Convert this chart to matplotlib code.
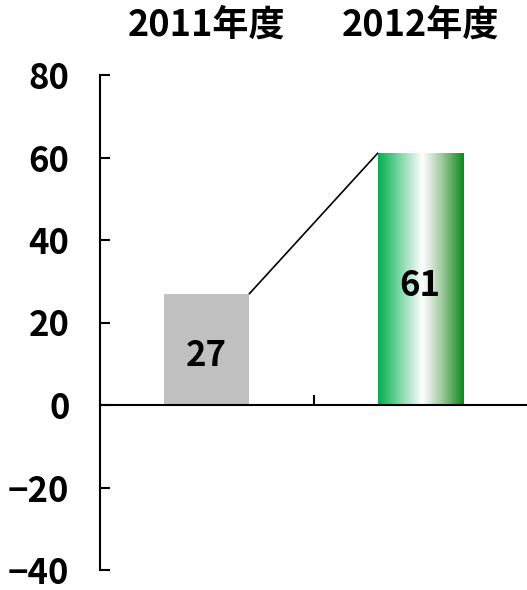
import numpy as np
import matplotlib
matplotlib.use('Agg')
import matplotlib.pyplot as plt
from matplotlib.colors import LinearSegmentedColormap

plt.rcParams['font.family'] = ['Noto Sans CJK JP', 'DejaVu Sans']

# data
categories = ['2011年度', '2012年度']
values = [27, 61]
yticks = [-40, -20, 0, 20, 40, 60, 80]

fig = plt.figure(figsize=(5.27, 5.90), dpi=100)
ax = fig.add_axes([100/527, 20/590, 427/527, 495/590])

x = np.arange(len(categories))
w = 0.4
bars = ax.bar(x, values, width=w, color=['#c0c0c0', 'none'], zorder=2)

# gradient fill for the second bar
cmap = LinearSegmentedColormap.from_list(
    'grn', [(0, '#00b050'), (0.25, '#7fd6a6'), (0.52, '#ffffff'),
            (0.75, '#9cc89c'), (1, '#0b8a18')])
b = bars[1]
grad = np.linspace(0, 1, 256).reshape(1, -1)
im = ax.imshow(grad, cmap=cmap, aspect='auto', zorder=2,
               extent=(b.get_x(), b.get_x() + b.get_width(), 0, b.get_height()))
im.set_clip_path(b)

# connector line
b0 = bars[0]
ax.plot([b0.get_x() + b0.get_width(), b.get_x()], [values[0], values[1]],
        color='black', lw=1.2, zorder=3)

for xi, v in zip(x, values):
    ax.text(xi, v / 2 - 1.5, str(v), ha='center', va='center',
            fontsize=25, fontweight='bold', zorder=4)

for xi, c in zip(x, categories):
    ax.text(xi, 92, c, ha='center', va='center', fontsize=26,
            fontweight='bold', clip_on=False)

ax.set_xlim(-0.5, 1.5)
ax.set_ylim(-40, 80)
ax.set_yticks(yticks)
ax.set_yticklabels([str(t).replace('-', '−') for t in yticks],
                   fontsize=25, fontweight='bold')
ax.set_xticks([0.5])
ax.set_xticklabels([])

for s in ['top', 'right']:
    ax.spines[s].set_visible(False)
ax.spines['bottom'].set_position(('data', 0))
ax.spines['bottom'].set_linewidth(1.5)
ax.spines['left'].set_linewidth(1.5)
ax.spines['bottom'].set_zorder(5)
ax.tick_params(axis='y', direction='in', length=7, width=1.5, pad=22)
ax.tick_params(axis='x', direction='in', length=7, width=1.5)

fig.savefig('out.png', dpi=100)
